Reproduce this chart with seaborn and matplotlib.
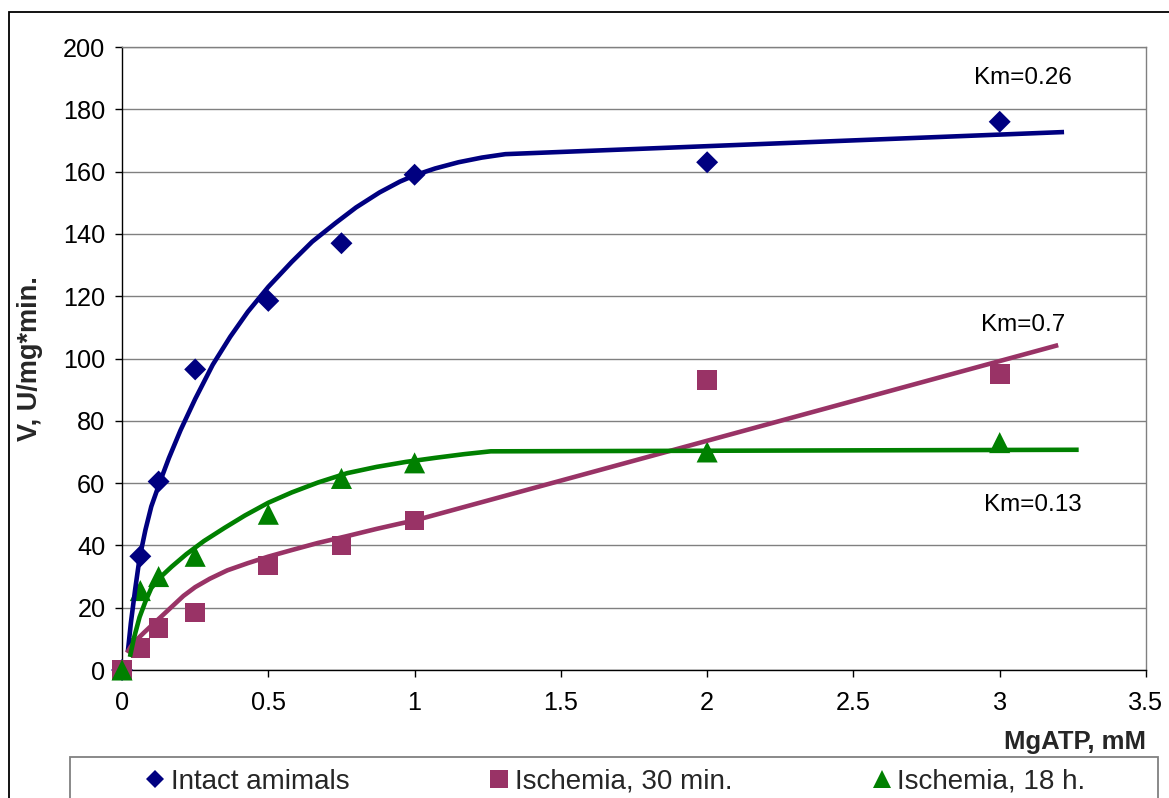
import matplotlib
matplotlib.use("Agg")
import matplotlib.pyplot as plt
import matplotlib.patches as mpatches
from matplotlib.lines import Line2D
import numpy as np
import pandas as pd
import seaborn as sns

# ---------------- data ----------------
mgatp = [0, 0.0625, 0.125, 0.25, 0.5, 0.75, 1, 2, 3]
intact = [0, 36.5, 60.5, 96.5, 118.5, 137, 159, 163, 176]
isch30 = [0, 7, 13.5, 18.5, 33.5, 40, 48, 93, 95]
isch18 = [0, 25.5, 30, 36.5, 50, 61.5, 66.5, 70, 73]

series_names = ["Intact amimals", "Ischemia, 30 min.", "Ischemia, 18 h."]

# fitted curves
fit_intact_x = [0.02, 0.03, 0.045, 0.06, 0.08, 0.10, 0.13, 0.16, 0.20, 0.25, 0.31, 0.37,
                0.43, 0.50, 0.58, 0.65, 0.73, 0.80, 0.88, 0.95, 1.00, 1.07, 1.15, 1.23,
                1.31, 3.22]
fit_intact_y = [6, 15, 26, 36, 45, 52.5, 60.5, 68, 77, 87, 98, 107,
                115, 123, 131, 137.5, 143.5, 148.5, 153.3, 156.8, 158.8, 161, 163, 164.5,
                165.6, 172.7]
fit_isch30_x = [0.017, 0.03, 0.05, 0.075, 0.10, 0.13, 0.17, 0.21, 0.25, 0.30, 0.36, 0.43,
                0.50, 0.58, 0.67, 0.77, 0.87, 0.95, 1.00, 3.20]
fit_isch30_y = [5.5, 7.5, 9.7, 12, 14.2, 16.8, 20.3, 23.8, 26.6, 29.3, 32, 34.3,
                36.4, 38.5, 40.8, 43, 45.3, 47, 48, 104.3]
fit_isch18_x = [0.027, 0.04, 0.06, 0.08, 0.10, 0.13, 0.17, 0.22, 0.28, 0.35, 0.42, 0.50,
                0.58, 0.67, 0.77, 0.87, 0.97, 1.07, 1.17, 1.26, 3.27]
fit_isch18_y = [4.2, 10, 17, 22, 26.3, 29.7, 33.2, 37.2, 41.4, 45.6, 49.6, 53.7,
                57, 60.2, 63.2, 65.2, 66.8, 68.1, 69.3, 70.2, 70.7]

km_labels = ["Km=0.26", "Km=0.7", "Km=0.13"]
km_x = [3.08, 3.08, 3.115]
km_y = [190, 110.8, 53]

x_ticks = [0, 0.5, 1, 1.5, 2, 2.5, 3, 3.5]
x_ticklabels = ["0", "0.5", "1", "1.5", "2", "2.5", "3", "3.5"]
y_ticks = [0, 20, 40, 60, 80, 100, 120, 140, 160, 180, 200]

colors = {"Intact amimals": "#000080", "Ischemia, 30 min.": "#993366", "Ischemia, 18 h.": "#008000"}
markers = {"Intact amimals": "D", "Ischemia, 30 min.": "s", "Ischemia, 18 h.": "^"}
sizes = {"Intact amimals": 125, "Ischemia, 30 min.": 200, "Ischemia, 18 h.": 230}
leg_ms = {"Intact amimals": 11, "Ischemia, 30 min.": 14, "Ischemia, 18 h.": 15}

# ---------------- style ----------------
sns.set_style("ticks")
plt.rcParams["font.family"] = ["Liberation Sans", "DejaVu Sans"]

fig = plt.figure(figsize=(11.69, 7.98), dpi=100)
ax = fig.add_axes([0.1044, 0.1604, 0.8759, 0.7807])

pts = pd.DataFrame({
    "x": mgatp * 3,
    "y": intact + isch30 + isch18,
    "series": [series_names[0]] * len(mgatp) + [series_names[1]] * len(mgatp) + [series_names[2]] * len(mgatp),
})

fits = [(fit_intact_x, fit_intact_y, series_names[0]),
        (fit_isch30_x, fit_isch30_y, series_names[1]),
        (fit_isch18_x, fit_isch18_y, series_names[2])]

for name in series_names:
    sub = pts[pts["series"] == name]
    sns.scatterplot(data=sub, x="x", y="y", color=colors[name], marker=markers[name],
                    s=sizes[name], edgecolor="none", linewidth=0, legend=False,
                    clip_on=False, zorder=3, ax=ax)

for fx, fy, name in fits:
    df = pd.DataFrame({"x": fx, "y": fy})
    sns.lineplot(data=df, x="x", y="y", color=colors[name], lw=3.3, sort=False,
                 estimator=None, legend=False, zorder=4, ax=ax,
                 solid_capstyle="butt", solid_joinstyle="round")

ax.set_xlim(0, 3.5)
ax.set_ylim(0, 200)
ax.set_xticks(x_ticks)
ax.set_xticklabels(x_ticklabels)
ax.set_yticks(y_ticks)
ax.tick_params(axis="both", direction="out", length=5, width=1, colors="black", labelsize=18.2)
ax.tick_params(axis="x", pad=10)
ax.tick_params(axis="y", pad=7)
ax.yaxis.grid(True, color="#808080", lw=1.0)
ax.xaxis.grid(False)
ax.set_axisbelow(True)
for s in ["left", "bottom"]:
    ax.spines[s].set_color("black")
    ax.spines[s].set_linewidth(1.0)
for s in ["top", "right"]:
    ax.spines[s].set_visible(True)
    ax.spines[s].set_color("#808080")
    ax.spines[s].set_linewidth(1.0)

ax.set_xlabel("MgATP, mM", fontsize=18.5, fontweight="bold", ha="right", va="center")
ax.xaxis.set_label_coords(1.0, -0.1156)
ax.set_ylabel("V, U/mg*min.", fontsize=19.5, fontweight="bold", va="center")
ax.yaxis.set_label_coords(-0.0898, 0.5)

for t, xx, yy in zip(km_labels, km_x, km_y):
    ax.text(xx, yy, t, ha="center", va="center", fontsize=17.5, color="black")

handles = [Line2D([], [], linestyle="none", marker=markers[n], color=colors[n],
                  markeredgewidth=0, markersize=leg_ms[n] * (0.82 if markers[n] == "D" else 0.88))
           for n in series_names]
leg = fig.legend(handles, series_names, loc="center left",
                 bbox_to_anchor=(147 / 1169, 1 - 782 / 798), ncol=3, frameon=False,
                 fontsize=20, handlelength=0.6, handletextpad=0.25, columnspacing=5.1,
                 borderpad=0, borderaxespad=0)

fig.add_artist(mpatches.Rectangle((70 / 1169, -0.5), (1158 - 70) / 1169, (1 - 757 / 798) + 0.5,
                                  transform=fig.transFigure, fill=False,
                                  edgecolor="#808080", lw=1.3))
fig.add_artist(mpatches.Rectangle((9 / 1169, -0.5), 2, 0.985 + 0.5,
                                  transform=fig.transFigure, fill=False,
                                  edgecolor="black", lw=1.3))

fig.savefig("out.png", dpi=100)
